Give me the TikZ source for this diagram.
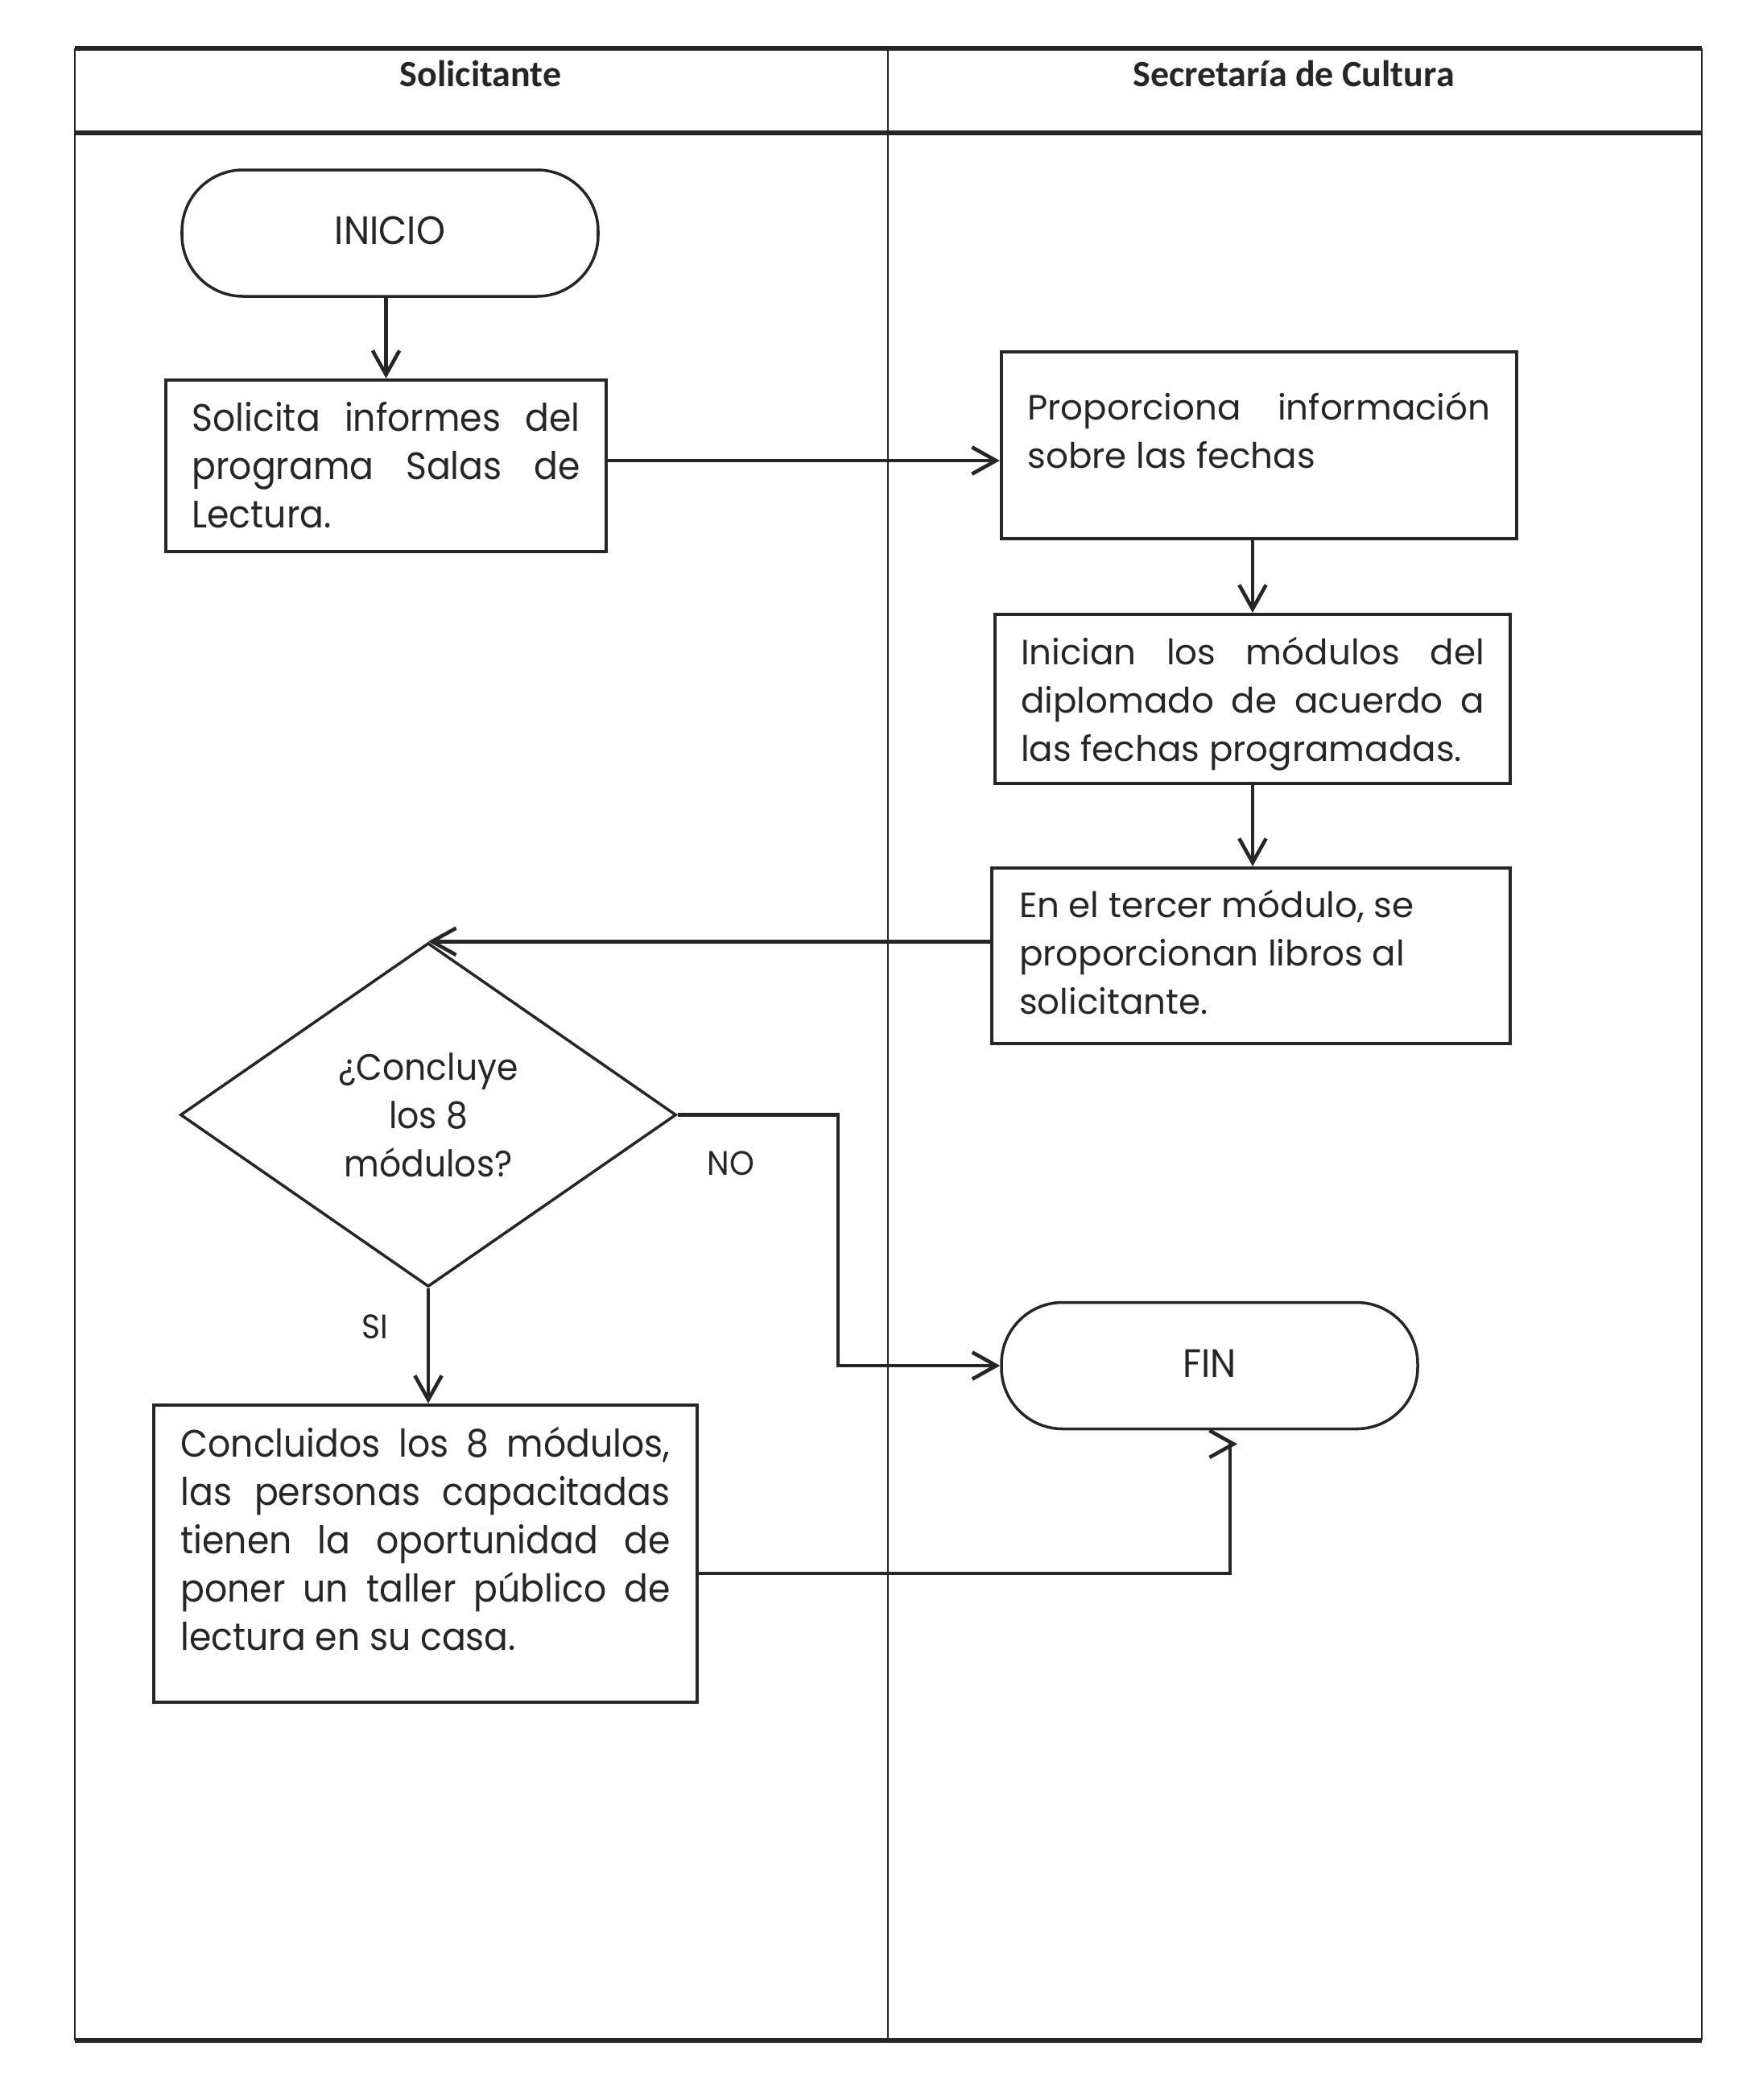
\documentclass[tikz,border=0pt]{standalone}
\usepackage{fontspec}
\setmainfont{Poppins}
\newfontfamily\gothic{Poppins}
\newfontfamily\cond[FakeStretch=0.93]{Poppins}
\newfontfamily\hdr{Carlito}
\usetikzlibrary{arrows.meta,shapes.geometric,calc}
\definecolor{ink}{HTML}{262626}
\newcommand{\jl}[1]{\makebox[\linewidth][s]{\rule{0pt}{0.4cm}#1}}
\newcommand{\rl}[1]{\rule{0pt}{0.4cm}#1}
\newcommand{\boxtext}[4]{\begin{minipage}[c][#1][t]{#2}\vspace*{#3}\setlength{\baselineskip}{0.6cm}\setlength{\lineskiplimit}{-1cm}#4\par\end{minipage}}
\tikzset{
  procbox/.style={draw=ink, line width=1.2pt, rectangle, inner sep=0pt, text=ink},
  rtext/.style={font=\gothic\fontsize{12.4pt}{17pt}\selectfont},
  ltext/.style={font=\cond\fontsize{13.5pt}{17pt}\selectfont},
  term/.style={draw=ink, line width=1.0pt, rectangle, rounded corners=0.76cm, minimum width=5.17cm, minimum height=1.57cm, inner sep=0pt, text=ink, font=\cond\fontsize{14pt}{17pt}\selectfont},
  decision/.style={draw=ink, line width=1.0pt, diamond, aspect=1.44, minimum width=6.16cm, minimum height=4.27cm, inner sep=0pt, text=ink, align=center, font=\cond\fontsize{13pt}{17.1pt}\selectfont},
  conn/.style={draw=ink, line width=1.3pt, -{Straight Barb[length=8.5pt,width=9.5pt,line width=1.3pt]}},
  lbl/.style={text=ink, inner sep=0pt, font=\cond\fontsize{12pt}{14pt}\selectfont},
  hdrtext/.style={text=ink, inner sep=0pt, font=\hdr\bfseries\fontsize{13.1pt}{15pt}\selectfont},
  thick lane/.style={draw=ink, line width=1.5pt},
  thin lane/.style={draw=ink, line width=0.75pt}
}
\begin{document}
\begin{tikzpicture}
\fill[white] (0,0) rectangle (21.9,-26.08);
\useasboundingbox (0,0) rectangle (21.9,-26.08);
% lanes
\coordinate (tl) at (0.93,-0.60);
\coordinate (tr) at (21.14,-0.60);
\coordinate (hl) at (0.93,-1.65);
\coordinate (hr) at (21.14,-1.65);
\coordinate (bl) at (0.93,-25.34);
\coordinate (br) at (21.14,-25.34);
\coordinate (mt) at (11.03,-0.60);
\coordinate (mb) at (11.03,-25.34);
\draw[thin lane] (tl) -- (bl);
\draw[thin lane] (tr) -- (br);
\draw[thin lane] (mt) -- (mb);
\draw[thick lane] (tl) -- (tr);
\draw[thick lane] (hl) -- (hr);
\draw[thick lane] (bl) -- (br);
\node[hdrtext] (h1) at (5.97,-0.91) {Solicitante};
\node[hdrtext] (h2) at (16.07,-0.91) {Secretaría de Cultura};

% nodes
\node[term] (ini) at (4.845,-2.895) {\raisebox{0.06cm}{INICIO}};
\node[procbox, ltext, minimum width=5.47cm] (sol) at (4.795,-5.785)
  {\boxtext{2.13cm}{4.82cm}{0.23cm}{\jl{Solicita informes del}\\\jl{programa Salas de}\\\rl{Lectura.}}};
\node[procbox, rtext, minimum width=6.40cm] (prop) at (15.64,-5.53)
  {\boxtext{2.32cm}{5.75cm}{0.44cm}{\jl{Proporciona información}\\\rl{sobre las fechas}}};
\node[procbox, rtext, minimum width=6.40cm] (inic) at (15.56,-8.68)
  {\boxtext{2.10cm}{5.76cm}{0.22cm}{\jl{Inician los módulos del}\\\jl{diplomado de acuerdo a}\\\rl{las fechas programadas.}}};
\node[procbox, rtext, minimum width=6.44cm] (terc) at (15.54,-11.87)
  {\boxtext{2.18cm}{5.76cm}{0.21cm}{\rl{En el tercer módulo, se}\\\rl{proporcionan libros al}\\\rl{solicitante.}}};
\node[decision] (dia) at (5.32,-13.845) {¿Concluye\\los 8\\módulos?};
\node[term] (fin) at (15.025,-16.96) {\raisebox{0.06cm}{FIN}};
\node[procbox, ltext, minimum width=6.75cm] (concl) at (5.285,-19.295)
  {\boxtext{3.69cm}{6.08cm}{0.24cm}{\jl{Concluidos los 8 módulos,}\\\jl{las personas capacitadas}\\\jl{tienen la oportunidad de}\\\jl{poner un taller público de}\\\rl{lectura en su casa.}}};
\node[lbl] (no) at (9.08,-14.45) {NO};
\node[lbl] (si) at (4.66,-16.48) {SI};
\coordinate (nobend) at (10.41,-13.845);
\coordinate (finend) at ([xshift=0.255cm,yshift=-0.17cm]fin.south);

% connectors
\draw[conn] (sol.north |- ini.south) -- (sol.north);
\draw[conn] ([yshift=0.065cm]sol.east) -- ([yshift=0.065cm]sol.east -| prop.west);
\draw[conn] (inic.north |- prop.south) -- (inic.north);
\draw[conn] (inic.south) -- (inic.south |- terc.north);
\draw[conn] (terc.west |- dia.north) -- (dia.north);
\draw[conn] (dia.east) -- (nobend) |- (fin.west);
\draw[conn] (dia.south) -- (dia.south |- concl.north);
\draw[conn] ([yshift=-0.245cm]concl.east) -| (finend) -- ([xshift=0.09cm]finend);
\end{tikzpicture}
\end{document}
